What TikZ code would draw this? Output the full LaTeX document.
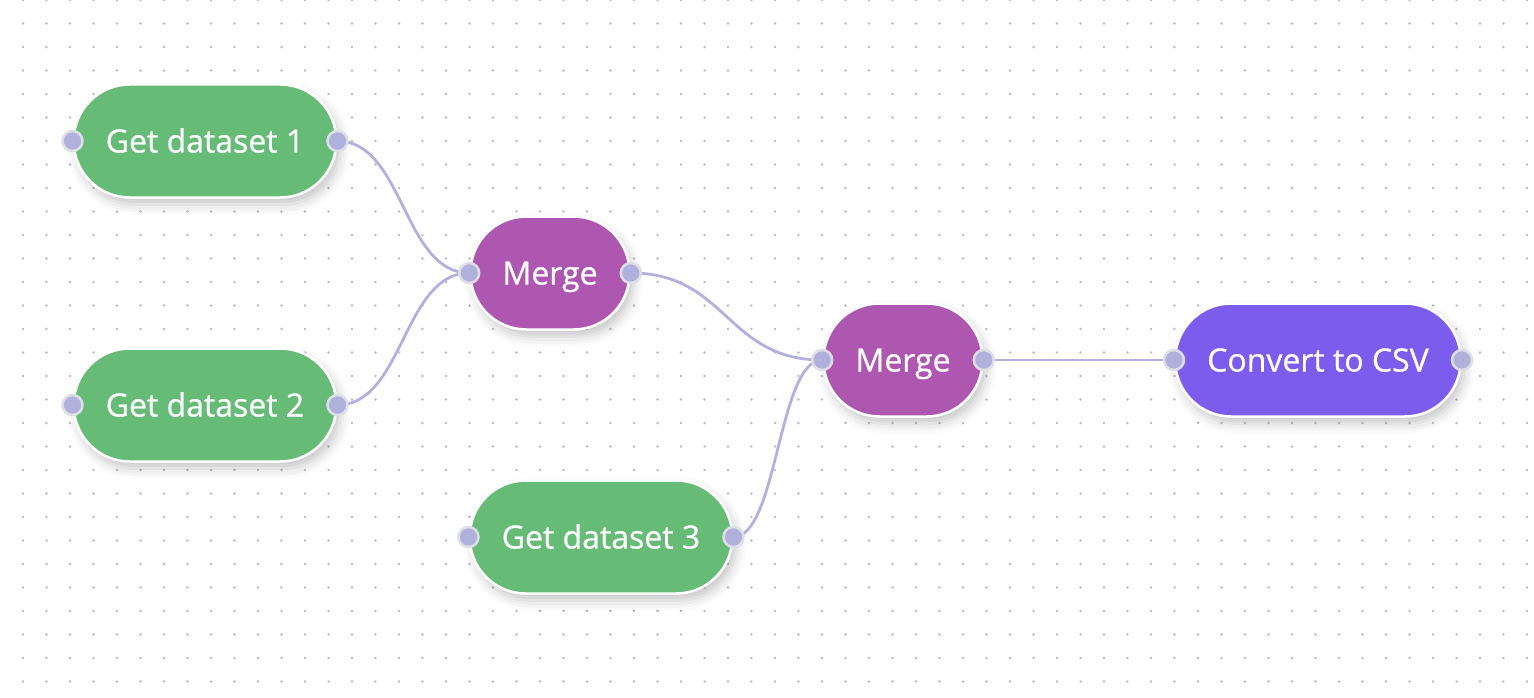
\documentclass[tikz,border=0pt]{standalone}
\usepackage{fontspec}
\setmainfont{Open Sans}
\newfontfamily\nodefont{Open Sans}[FakeBold=0.7]
\usepackage{xcolor}
\definecolor{stepgreen}{RGB}{102, 187, 118}
\definecolor{mergepurple}{RGB}{173, 87, 176}
\definecolor{csvviolet}{RGB}{124, 92, 236}
\definecolor{portfill}{RGB}{176, 176, 220}
\definecolor{portring}{RGB}{222, 222, 230}
\definecolor{wirecol}{RGB}{178, 176, 222}
\definecolor{griddot}{RGB}{188, 188, 188}
\usepackage{tikz}
\usetikzlibrary{shadows.blur}
\tikzstyle{block} = [rectangle,rounded corners=56pt,draw=white,line width=2.5pt,text=white,
  font=\nodefont\fontsize{32}{38}\selectfont,inner xsep=32pt,inner ysep=0pt,minimum height=113pt,
  text height=23pt,text depth=0pt,
  blur shadow={shadow xshift=4pt,shadow yshift=-7pt,shadow blur radius=10pt,shadow opacity=22}]
\tikzstyle{getdata} = [block,fill=stepgreen]
\tikzstyle{merge} = [block,fill=mergepurple]
\tikzstyle{convert} = [block,fill=csvviolet]
\tikzstyle{port} = [circle,fill=portfill,draw=portring,line width=2.5pt,inner sep=0pt,minimum size=20pt]
\tikzstyle{wire} = [draw=wirecol,line width=2.8pt]

\begin{document}
\begin{tikzpicture}[x=1pt,y=-1pt]
    \useasboundingbox (0,0) rectangle (1534,698);
    \foreach \gx in {0,...,64}
      \foreach \gy in {0,...,29}
        \fill[griddot] (23+23.5*\gx,23.5*\gy) circle (1.3pt);

      \node[getdata] (d1) at (205,141) {Get dataset 1};
      \node[getdata] (d2) at (205,405) {Get dataset 2};
      \node[getdata] (d3) at (601,537) {Get dataset 3};
      \node[merge]   (m1) at (550,273) {Merge};
      \node[merge]   (m2) at (903,360) {Merge};
      \node[convert] (c1) at (1318,360) {Convert to CSV};

      \path[wire] (d1.east) .. controls +(66,0) and +(-66,0) .. (m1.west);
      \path[wire] (d2.east) .. controls +(66,0) and +(-66,0) .. (m1.west);
      \path[wire] (m1.east) .. controls +(96,0) and +(-96,0) .. (m2.west);
      \path[wire] (d3.east) .. controls +(44,0) and +(-44,0) .. (m2.west);
      \path[wire] (m2.east) -- (c1.west);

      \foreach \n in {d1,d2,d3,m1,m2,c1} {
        \node[port] (\n-in)  at (\n.west) {};
        \node[port] (\n-out) at (\n.east) {};
      }
\end{tikzpicture}
\end{document}
